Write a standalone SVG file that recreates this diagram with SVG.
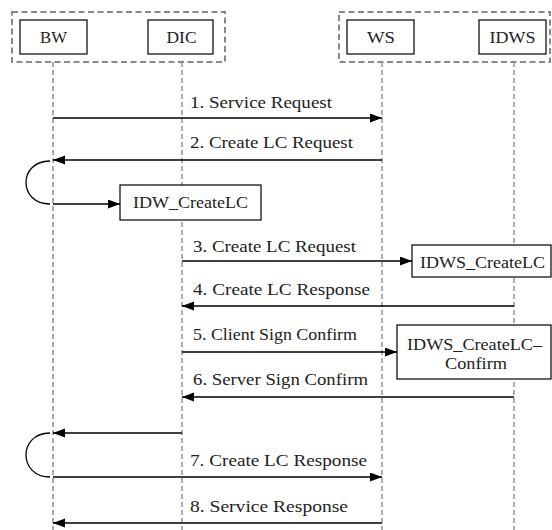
<svg xmlns="http://www.w3.org/2000/svg" width="552" height="530" viewBox="0 0 552 530">
<defs>
<marker id="ah" markerUnits="userSpaceOnUse" markerWidth="12" markerHeight="10" refX="12" refY="4.5" orient="auto">
<path d="M0,0 L12,4.5 L0,9 z" fill="#000"/>
</marker>
<style>
.grp{fill:none;stroke:#888;stroke-width:2;stroke-dasharray:6,3.5}
.life{fill:none;stroke:#999;stroke-width:1.6;stroke-dasharray:5,3}
.box{fill:#fff;stroke:#000;stroke-width:1.2}
.msg{fill:none;stroke:#000;stroke-width:1.3}
.arr{marker-end:url(#ah)}
text{font-family:"Liberation Serif","DejaVu Serif",serif;font-size:17px;fill:#222}
.c{text-anchor:middle}
</style>
</defs>
<rect width="552" height="530" fill="#fff"/>
<g id="groups">
<rect class="grp" x="12" y="12" width="213" height="50"/>
<rect class="grp" x="339" y="12" width="211" height="50"/>
</g>
<g id="lifelines">
<line class="life" x1="53" y1="62" x2="53" y2="530"/>
<line class="life" x1="182" y1="62" x2="182" y2="530"/>
<line class="life" x1="382" y1="62" x2="382" y2="530"/>
<line class="life" x1="514" y1="62" x2="514" y2="530"/>
</g>
<g id="BW"><rect class="box" x="20" y="20" width="67" height="34"/><text class="c" x="53.5" y="43" textLength="27" lengthAdjust="spacingAndGlyphs">BW</text></g>
<g id="DIC"><rect class="box" x="148" y="20" width="65" height="34"/><text class="c" x="181.5" y="43" textLength="30" lengthAdjust="spacingAndGlyphs">DIC</text></g>
<g id="WS"><rect class="box" x="347" y="20" width="67" height="34"/><text class="c" x="381" y="43" textLength="28" lengthAdjust="spacingAndGlyphs">WS</text></g>
<g id="IDWS"><rect class="box" x="479" y="20" width="67" height="34"/><text class="c" x="512.5" y="43" textLength="46" lengthAdjust="spacingAndGlyphs">IDWS</text></g>
<g id="IDW_CreateLC"><rect class="box" x="120" y="185" width="141" height="35"/><text x="133" y="208" textLength="115" lengthAdjust="spacingAndGlyphs">IDW_CreateLC</text></g>
<g id="IDWS_CreateLC"><rect class="box" x="412" y="245" width="139" height="32"/><text x="420" y="268" textLength="125" lengthAdjust="spacingAndGlyphs">IDWS_CreateLC</text></g>
<g id="IDWS_CreateLC-Confirm"><rect class="box" x="397" y="325" width="154" height="54"/><text x="407" y="350" textLength="135" lengthAdjust="spacingAndGlyphs">IDWS_CreateLC–</text><text x="445" y="369" textLength="62" lengthAdjust="spacingAndGlyphs">Confirm</text></g>
<g id="connectors">
<line class="msg arr" x1="53" y1="118" x2="382" y2="118"/>
<text x="190" y="108" textLength="142" lengthAdjust="spacingAndGlyphs">1. Service Request</text>
<line class="msg arr" x1="382" y1="160" x2="53" y2="160"/>
<text x="190" y="148" textLength="163" lengthAdjust="spacingAndGlyphs">2. Create LC Request</text>
<path class="msg" d="M50,161 C18,161 18,204 50,204"/>
<line class="msg arr" x1="53" y1="204" x2="120" y2="204"/>
<line class="msg arr" x1="182" y1="261" x2="412" y2="261"/>
<text x="193" y="252" textLength="163" lengthAdjust="spacingAndGlyphs">3. Create LC Request</text>
<line class="msg arr" x1="514" y1="306" x2="182" y2="306"/>
<text x="193" y="295" textLength="177" lengthAdjust="spacingAndGlyphs">4. Create LC Response</text>
<line class="msg arr" x1="182" y1="352" x2="397" y2="352"/>
<text x="193" y="340" textLength="164" lengthAdjust="spacingAndGlyphs">5. Client Sign Confirm</text>
<line class="msg arr" x1="514" y1="397" x2="182" y2="397"/>
<text x="193" y="385" textLength="175" lengthAdjust="spacingAndGlyphs">6. Server Sign Confirm</text>
<line class="msg arr" x1="182" y1="433" x2="53" y2="433"/>
<path class="msg" d="M50,433 C18,433 18,477 50,477"/>
<line class="msg arr" x1="53" y1="477" x2="382" y2="477"/>
<text x="190" y="466" textLength="177" lengthAdjust="spacingAndGlyphs">7. Create LC Response</text>
<line class="msg arr" x1="382" y1="523" x2="53" y2="523"/>
<text x="190" y="512" textLength="158" lengthAdjust="spacingAndGlyphs">8. Service Response</text>
</g>
</svg>
